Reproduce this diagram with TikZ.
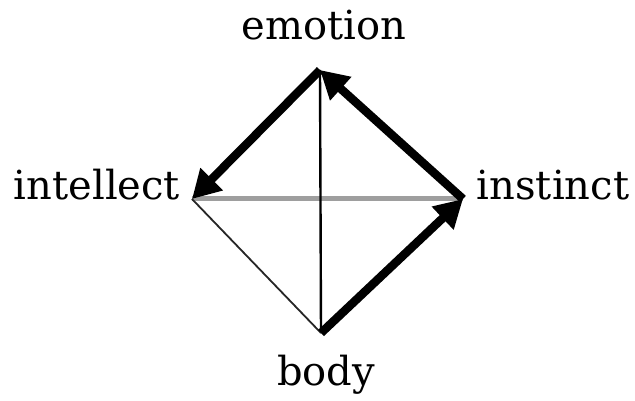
\documentclass[tikz,border=0pt]{standalone}
\usepackage{fontspec}
\setmainfont{DejaVu Serif}
\usetikzlibrary{arrows.meta}
\begin{document}
\begin{tikzpicture}[x=1pt,y=-1pt,
  lbl/.style={anchor=base,inner sep=0pt,font=\fontsize{40}{40}\selectfont},
  thickarrow/.style={line width=8.5pt,-{Triangle[length=28pt,width=30pt]}},
  grayline/.style={line width=5pt,color=black!38},
  thinline/.style={line width=2.4pt,black},
  faintline/.style={line width=1.8pt,black!85}]
\useasboundingbox[fill=white] (0,0) rectangle (635,401);
\coordinate (T) at (320,70);
\coordinate (L) at (192,199);
\coordinate (R) at (463,199);
\coordinate (B) at (321,333);
\node[lbl] (emotion) at (324,40) {emotion};
\node[lbl] (intellect) at (97,200) {intellect};
\node[lbl] (instinct) at (553,200) {instinct};
\node[lbl] (body) at (326,385) {body};
\draw[grayline] (L) -- (R);
\draw[thinline] (T) -- (B);
\draw[faintline] (L) -- (B);
\draw[thickarrow] (T) -- (L);
\draw[thickarrow] (R) -- (T);
\draw[thickarrow] (B) -- (R);
\end{tikzpicture}
\end{document}
